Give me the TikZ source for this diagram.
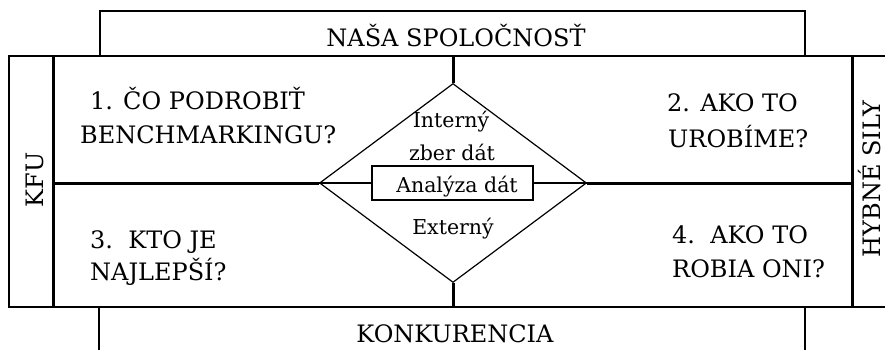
\documentclass[tikz,border=0pt]{standalone}
\usepackage{fontspec}
\setmainfont{DejaVu Serif}
\usetikzlibrary{shapes.geometric}
\begin{document}
\begin{tikzpicture}[x=1pt,y=-1pt,
  thinline/.style={line width=1.2pt},
  thickline/.style={line width=3pt},
  big/.style={font=\fontsize{24}{28}\selectfont, inner sep=0pt, anchor=base west},
  bigc/.style={font=\fontsize{24}{28}\selectfont, inner sep=0pt, anchor=base},
  small/.style={font=\fontsize{20.5}{24}\selectfont, inner sep=0pt, anchor=base}]
\useasboundingbox (0,0) rectangle (885,350);
\clip (0,0) rectangle (885,350);
% frame coordinates
\coordinate (tl) at (9,56);
\coordinate (br) at (900,307);
\coordinate (kfuT) at (53,56);
\coordinate (kfuB) at (53,307);
\coordinate (hsT) at (852,56);
\coordinate (hsB) at (852,307);
\coordinate (midL) at (53,183);
\coordinate (midR) at (852,183);
\coordinate (vT) at (453,56);
\coordinate (vB) at (453,307);
% boxes
\draw[thinline] (100,56) |- (805,11) -- (805,56);
\draw[thinline] (99,360) |- (99,307) -- (805,307) -- (805,360);
\draw[thinline] (tl) rectangle (br);
\draw[thickline] (kfuT) -- (kfuB);
\draw[thickline] (hsT) -- (hsB);
% diamond
\node[draw, thinline, shape=diamond, minimum width=267pt, minimum height=199pt, inner sep=0pt] (dia) at (453,183) {};
\node[draw, thinline, minimum width=161pt, minimum height=34pt, inner sep=0pt] (ana) at (452.5,183) {};
\draw[thickline] (midL) -- (dia.west);
\draw[thickline] (dia.east) -- (midR);
\draw[thickline] (vT) -- (dia.north);
\draw[thickline] (dia.south) -- (vB);
\draw[thinline] (dia.west) -- (ana.west);
\draw[thinline] (ana.east) -- (dia.east);
% texts
\node[bigc] (nasa) at (456,47) {NAŠA SPOLOČNOSŤ};
\node[bigc] (konk) at (455,342) {KONKURENCIA};
\node[big] (q1a) at (90,110) {1. ČO PODROBIŤ};
\node[big] (q1b) at (80,143) {BENCHMARKINGU?};
\node[big] (q2a) at (667,112) {2. AKO TO};
\node[big] (q2b) at (668,147) {UROBÍME?};
\node[big] (q3a) at (90,248) {3.\ \ KTO JE};
\node[big] (q3b) at (90,280) {NAJLEPŠÍ?};
\node[big] (q4a) at (672,243) {4.\ \ AKO TO};
\node[big] (q4b) at (672,277) {ROBIA ONI?};
\node[small] (int) at (451,128) {Interný};
\node[small] (zber) at (452,160) {zber dát};
\node[small] (anat) at (457,192) {Analýza dát};
\node[small] (ext) at (453,234) {Externý};
\node[bigc, rotate=90] (kfu) at (43,180) {KFU};
\node[bigc, rotate=90] (hyb) at (880,179) {HYBNÉ SILY};
\end{tikzpicture}
\end{document}
